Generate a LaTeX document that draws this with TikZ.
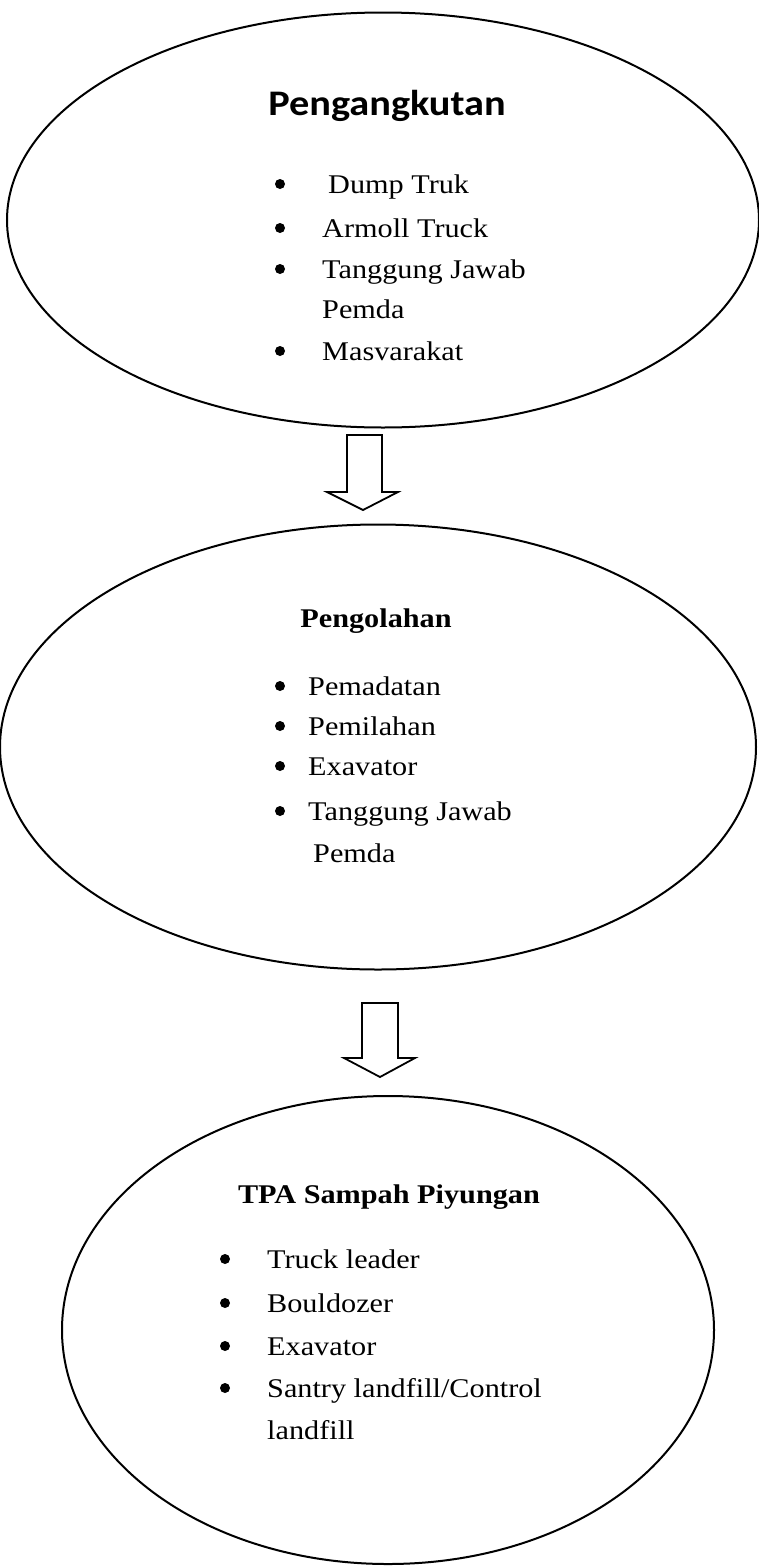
\documentclass[tikz,border=0pt]{standalone}
\usepackage{fontspec}
\setmainfont{Liberation Serif}[FakeStretch=1.12]
\newfontfamily\titlesans{Carlito}[FakeStretch=1.12]
\usetikzlibrary{shapes.geometric}
\tikzset{
  blob/.style={draw, ellipse, line width=2pt, inner sep=0pt},
  item/.style={anchor=base west, inner sep=0pt, font=\fontsize{27}{32}\selectfont},
  headserif/.style={anchor=base, inner sep=0pt, font=\bfseries\fontsize{27}{32}\selectfont},
  headsans/.style={anchor=base, inner sep=0pt, font=\titlesans\bfseries\fontsize{36}{42}\selectfont},
  dot/.style={circle, fill=black, inner sep=0pt, minimum size=10pt},
  blockarrow/.style={draw=black, line width=1.8pt, line join=miter, fill=white}
}
\begin{document}
\begin{tikzpicture}[x=1pt, y=-1pt]
\useasboundingbox (0,0) rectangle (759,1566);
% ellipses
\node[blob, minimum width=752pt, minimum height=415pt] (e1) at (383,220) {};
\node[blob, minimum width=756pt, minimum height=445pt] (e2) at (378,747) {};
\node[blob, minimum width=652pt, minimum height=468pt] (e3) at (388,1330) {};

% ellipse 1 text
\node[headsans] (t1) at (387,115) {Pengangkutan};
\node[dot] (b11) at (280,184) {};
\node[item] (i11) at (328,193) {Dump Truk};
\node[dot] (b12) at (280,228) {};
\node[item] (i12) at (322,237) {Armoll Truck};
\node[dot] (b13) at (280,269) {};
\node[item] (i13) at (322,278) {Tanggung Jawab};
\node[item] (i14) at (322,318) {Pemda};
\node[dot] (b15) at (280,351) {};
\node[item] (i15) at (322,360) {Masvarakat};

% ellipse 2 text
\node[headserif] (t2) at (376,627) {Pengolahan};
\node[dot] (b21) at (280,686) {};
\node[item] (i21) at (308,695) {Pemadatan};
\node[dot] (b22) at (280,726) {};
\node[item] (i22) at (308,735) {Pemilahan};
\node[dot] (b23) at (280,766) {};
\node[item] (i23) at (308,775) {Exavator};
\node[dot] (b24) at (280,811) {};
\node[item] (i24) at (308,820) {Tanggung Jawab};
\node[item] (i25) at (313,862) {Pemda};

% ellipse 3 text
\node[headserif] (t3) at (389,1203) {TPA Sampah Piyungan};
\node[dot] (b31) at (225,1259) {};
\node[item] (i31) at (267,1268) {Truck leader};
\node[dot] (b32) at (225,1303) {};
\node[item] (i32) at (267,1312) {Bouldozer};
\node[dot] (b33) at (225,1346) {};
\node[item] (i33) at (267,1355) {Exavator};
\node[dot] (b34) at (225,1388) {};
\node[item] (i34) at (267,1397) {Santry landfill/Control};
\node[item] (i35) at (267,1439) {landfill};

% block arrows
\coordinate (a1) at (363,510);
\draw[blockarrow] (a1) -- ++(-36,-18) -- ++(20,0) -- ++(0,-57) -- ++(35,0) -- ++(0,57) -- ++(16,0) -- cycle;
\coordinate (a2) at (380,1077);
\draw[blockarrow] (a2) -- ++(-36,-19) -- ++(18,0) -- ++(0,-55) -- ++(36,0) -- ++(0,55) -- ++(17,0) -- cycle;
\end{tikzpicture}
\end{document}
